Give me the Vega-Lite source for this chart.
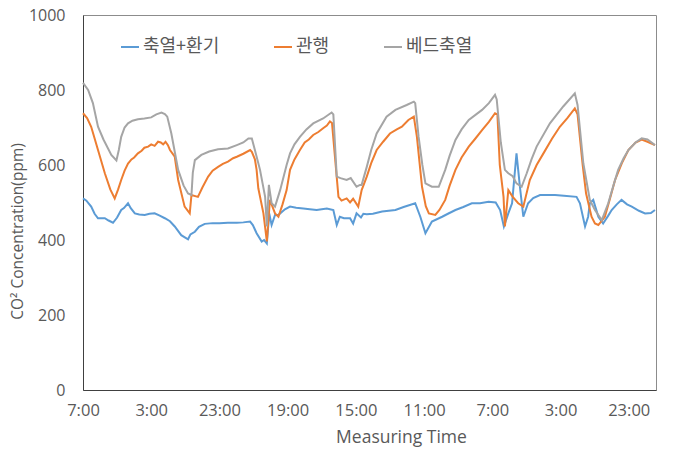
{
  "$schema": "https://vega.github.io/schema/vega-lite/v6.json",
  "autosize": {"type": "none"},
  "width": 573,
  "height": 375,
  "padding": {"left": 83, "top": 15, "right": 32, "bottom": 59},
  "background": "white",
  "config": {
    "view": {"stroke": "#8C8C8C", "strokeWidth": 1},
    "font": "Open Sans"
  },
  "datasets": {
    "blue": [
      {"h":0,"v":511},{"h":1,"v":505},{"h":2.4,"v":489},{"h":3.4,"v":470},{"h":4.4,"v":458},{"h":6.4,"v":458},{"h":7.5,"v":452},{"h":8.8,"v":446},{"h":10,"v":460},{"h":11.2,"v":480},{"h":12,"v":485},{"h":13.2,"v":498},{"h":14,"v":485},{"h":15.2,"v":471},{"h":16.5,"v":468},{"h":18.1,"v":467},{"h":19.5,"v":470},{"h":21.0,"v":471},{"h":22.5,"v":465},{"h":24.0,"v":458},{"h":25.5,"v":450},{"h":26.9,"v":436},{"h":28.8,"v":413},{"h":30.8,"v":402},{"h":31.5,"v":415},{"h":32.8,"v":422},{"h":34,"v":435},{"h":35.7,"v":443},{"h":38,"v":445},{"h":40,"v":445},{"h":42.5,"v":446},{"h":45.1,"v":446},{"h":47,"v":447},{"h":49.0,"v":449},{"h":49.8,"v":440},{"h":50.9,"v":418},{"h":52.4,"v":396},{"h":53.1,"v":400},{"h":53.9,"v":391},{"h":54.6,"v":471},{"h":55.3,"v":440},{"h":56.3,"v":467},{"h":57.3,"v":467},{"h":59.2,"v":482},{"h":60.7,"v":489},{"h":62.5,"v":486},{"h":64.6,"v":484},{"h":66.5,"v":482},{"h":68.5,"v":480},{"h":70,"v":482},{"h":71.5,"v":484},{"h":73.4,"v":480},{"h":74.4,"v":440},{"h":75.3,"v":462},{"h":76.5,"v":458},{"h":78.3,"v":458},{"h":79.2,"v":444},{"h":80.2,"v":471},{"h":81.5,"v":460},{"h":82.2,"v":470},{"h":83.2,"v":469},{"h":85,"v":470},{"h":87.7,"v":476},{"h":91.6,"v":480},{"h":94,"v":488},{"h":97.4,"v":498},{"h":98.9,"v":462},{"h":100.4,"v":418},{"h":102.3,"v":449},{"h":105.3,"v":462},{"h":107,"v":470},{"h":109.2,"v":480},{"h":111.5,"v":488},{"h":114.0,"v":498},{"h":116.4,"v":498},{"h":118.9,"v":502},{"h":121.0,"v":500},{"h":122.3,"v":480},{"h":123.4,"v":436},{"h":124.7,"v":471},{"h":125.8,"v":498},{"h":127.1,"v":631},{"h":128.1,"v":542},{"h":129.1,"v":462},{"h":130.5,"v":498},{"h":132,"v":512},{"h":134,"v":520},{"h":136,"v":520},{"h":138.4,"v":520},{"h":141,"v":518},{"h":144.7,"v":515},{"h":145.7,"v":498},{"h":147.2,"v":436},{"h":148.1,"v":462},{"h":148.6,"v":498},{"h":149.6,"v":507},{"h":151.1,"v":462},{"h":152.5,"v":444},{"h":154,"v":465},{"h":155.0,"v":480},{"h":156.5,"v":495},{"h":157.9,"v":507},{"h":159.5,"v":495},{"h":160.9,"v":489},{"h":163,"v":478},{"h":164.8,"v":471},{"h":166.5,"v":472},{"h":167.7,"v":480}
    ],
    "orange": [
      {"h":0,"v":738},{"h":1.2,"v":725},{"h":2.4,"v":702},{"h":4.4,"v":640},{"h":6.4,"v":578},{"h":8,"v":535},{"h":9.3,"v":511},{"h":10.3,"v":535},{"h":11.2,"v":560},{"h":12.2,"v":585},{"h":13.2,"v":604},{"h":14.2,"v":615},{"h":15,"v":620},{"h":16.1,"v":631},{"h":17.2,"v":638},{"h":18,"v":646},{"h":19.1,"v":649},{"h":20,"v":655},{"h":21,"v":651},{"h":22.0,"v":662},{"h":22.8,"v":660},{"h":23.5,"v":655},{"h":24.2,"v":662},{"h":24.9,"v":653},{"h":25.5,"v":640},{"h":26.9,"v":622},{"h":27.9,"v":560},{"h":29.8,"v":489},{"h":31.3,"v":471},{"h":31.8,"v":520},{"h":33.7,"v":515},{"h":35,"v":540},{"h":36.7,"v":569},{"h":38,"v":585},{"h":39.6,"v":595},{"h":41,"v":603},{"h":42.5,"v":609},{"h":44,"v":618},{"h":45.1,"v":622},{"h":47,"v":630},{"h":49.0,"v":640},{"h":49.5,"v":635},{"h":50.4,"v":615},{"h":50.9,"v":587},{"h":51.4,"v":538},{"h":52.9,"v":471},{"h":53.9,"v":396},{"h":54.8,"v":507},{"h":56.3,"v":471},{"h":57.3,"v":462},{"h":58.5,"v":495},{"h":59.7,"v":533},{"h":60.7,"v":587},{"h":62,"v":615},{"h":63.6,"v":640},{"h":65,"v":660},{"h":66.2,"v":668},{"h":67.5,"v":680},{"h":69,"v":688},{"h":70.4,"v":698},{"h":71.5,"v":705},{"h":72.4,"v":716},{"h":73.0,"v":712},{"h":74.9,"v":515},{"h":75.8,"v":505},{"h":77.3,"v":511},{"h":78.3,"v":500},{"h":79.2,"v":510},{"h":80.7,"v":489},{"h":81.7,"v":533},{"h":83.2,"v":569},{"h":84.5,"v":605},{"h":86.1,"v":640},{"h":88,"v":662},{"h":90,"v":684},{"h":92,"v":695},{"h":93.5,"v":702},{"h":95.4,"v":720},{"h":97.0,"v":729},{"h":97.9,"v":675},{"h":99.4,"v":542},{"h":100.5,"v":490},{"h":101.4,"v":471},{"h":103.3,"v":467},{"h":104.5,"v":480},{"h":106.2,"v":507},{"h":107.5,"v":545},{"h":109.2,"v":587},{"h":111,"v":620},{"h":113.1,"v":649},{"h":115,"v":670},{"h":117.0,"v":693},{"h":119,"v":715},{"h":120.8,"v":738},{"h":121.5,"v":735},{"h":122.2,"v":600},{"h":123.3,"v":515},{"h":123.7,"v":436},{"h":124.7,"v":533},{"h":126,"v":515},{"h":127.6,"v":498},{"h":129.1,"v":489},{"h":131,"v":560},{"h":133,"v":600},{"h":135,"v":631},{"h":137.5,"v":670},{"h":139.8,"v":702},{"h":142,"v":725},{"h":144.2,"v":751},{"h":145.0,"v":735},{"h":146.5,"v":600},{"h":147.5,"v":524},{"h":149.1,"v":462},{"h":150.1,"v":444},{"h":151.1,"v":440},{"h":153.0,"v":462},{"h":154.5,"v":510},{"h":156.0,"v":560},{"h":158,"v":605},{"h":159.9,"v":640},{"h":162,"v":660},{"h":163.8,"v":668},{"h":165.5,"v":662},{"h":167.7,"v":653}
    ],
    "gray": [
      {"h":0,"v":819},{"h":1.5,"v":800},{"h":2.9,"v":765},{"h":4.4,"v":702},{"h":6,"v":668},{"h":8.3,"v":627},{"h":9.8,"v":612},{"h":10.5,"v":640},{"h":11.2,"v":675},{"h":12.2,"v":700},{"h":13.2,"v":711},{"h":14.5,"v":718},{"h":16.1,"v":722},{"h":18,"v":724},{"h":20.0,"v":727},{"h":21.5,"v":735},{"h":23.0,"v":740},{"h":24.0,"v":736},{"h":24.7,"v":729},{"h":25.9,"v":684},{"h":27.9,"v":587},{"h":29.5,"v":545},{"h":30.8,"v":524},{"h":31.8,"v":520},{"h":32.2,"v":580},{"h":32.8,"v":613},{"h":34.7,"v":627},{"h":37,"v":636},{"h":39.6,"v":642},{"h":42.5,"v":644},{"h":45.1,"v":653},{"h":47,"v":660},{"h":48.5,"v":671},{"h":49.5,"v":671},{"h":50.4,"v":640},{"h":51.9,"v":587},{"h":53.4,"v":515},{"h":53.9,"v":436},{"h":54.5,"v":547},{"h":55.3,"v":498},{"h":56.3,"v":489},{"h":57.8,"v":533},{"h":59.7,"v":600},{"h":60.7,"v":631},{"h":62,"v":655},{"h":63.6,"v":675},{"h":65.5,"v":695},{"h":67.5,"v":711},{"h":70.4,"v":724},{"h":72.9,"v":740},{"h":73.4,"v":735},{"h":74.4,"v":569},{"h":75.5,"v":565},{"h":77.3,"v":560},{"h":78.5,"v":565},{"h":80.2,"v":542},{"h":81.2,"v":547},{"h":81.7,"v":547},{"h":83.2,"v":595},{"h":84.5,"v":640},{"h":86.1,"v":684},{"h":89,"v":729},{"h":91.6,"v":747},{"h":94.9,"v":760},{"h":97.0,"v":769},{"h":97.4,"v":765},{"h":98.4,"v":675},{"h":99.5,"v":600},{"h":100.4,"v":551},{"h":102.3,"v":542},{"h":104.3,"v":542},{"h":106.2,"v":587},{"h":107.5,"v":625},{"h":109.2,"v":667},{"h":111,"v":695},{"h":113.1,"v":720},{"h":117.0,"v":747},{"h":119,"v":765},{"h":120.8,"v":787},{"h":121.3,"v":775},{"h":122.5,"v":660},{"h":123.7,"v":587},{"h":124.7,"v":578},{"h":126,"v":570},{"h":127.1,"v":551},{"h":128.6,"v":542},{"h":130.1,"v":578},{"h":131.5,"v":615},{"h":133,"v":649},{"h":136.9,"v":711},{"h":140.8,"v":756},{"h":144.2,"v":791},{"h":145,"v":760},{"h":146.7,"v":604},{"h":148.6,"v":507},{"h":150.1,"v":480},{"h":152.1,"v":453},{"h":154.0,"v":498},{"h":155.5,"v":545},{"h":156.9,"v":587},{"h":158.5,"v":618},{"h":159.9,"v":640},{"h":162,"v":660},{"h":163.8,"v":671},{"h":165.5,"v":668},{"h":167.7,"v":653}
    ]
  },
  "encoding": {
    "x": {
      "field": "h", "type": "quantitative",
      "scale": {"domain": [0, 168], "nice": false, "zero": false},
      "axis": {
        "values": [0, 20, 40, 60, 80, 100, 120, 140, 160],
        "labelExpr": "((datum.value + 7) % 24) + ':00'",
        "grid": false, "ticks": false, "tickSize": 0,
        "domainColor": "#404040", "domainWidth": 1,
        "labelFont": "Open Sans", "labelFontSize": 16.5, "labelColor": "#595959",
        "labelPadding": 12, "labelFlush": false,
        "title": "Measuring Time",
        "titleFont": "Open Sans", "titleFontSize": 17.5, "titleFontWeight": "normal", "titleColor": "#595959",
        "titleX": 318, "titleY": 52, "titleBaseline": "alphabetic", "titleAnchor": "middle", "titleAlign": "center"
      }
    },
    "y": {
      "field": "v", "type": "quantitative",
      "scale": {"domain": [0, 1000], "nice": false},
      "axis": {
        "values": [0, 200, 400, 600, 800, 1000],
        "format": "d",
        "grid": false, "ticks": false, "tickSize": 0,
        "domainColor": "#404040", "domainWidth": 1,
        "labelFont": "Open Sans", "labelFontSize": 16, "labelColor": "#595959",
        "labelPadding": 18,
        "title": "CO² Concentration(ppm)",
        "titleFont": "Open Sans", "titleFontSize": 15.5, "titleFontWeight": "normal", "titleColor": "#595959",
        "titleX": -66, "titleY": 216, "titleAngle": -90, "titleBaseline": "middle", "titleAlign": "center"
      }
    }
  },
  "layer": [
    {
      "data": {"name": "blue"},
      "mark": {"type": "line", "strokeWidth": 2},
      "encoding": {
        "color": {
          "datum": "축열+환기", "type": "nominal",
          "scale": {"domain": ["축열+환기", "관행", "베드축열"], "range": ["#5B9BD5", "#ED7D31", "#A5A5A5"]},
          "legend": {
            "title": null, "orient": "none", "direction": "horizontal",
            "legendX": 37, "legendY": 22,
            "symbolType": "stroke", "symbolSize": 324, "symbolStrokeWidth": 2,
            "labelFont": "Noto Sans CJK KR", "labelFontSize": 18, "labelColor": "#595959",
            "labelOffset": 3, "columnPadding": 50, "labelLimit": 200
          }
        }
      }
    },
    {
      "data": {"name": "orange"},
      "mark": {"type": "line", "strokeWidth": 2},
      "encoding": {"color": {"datum": "관행", "type": "nominal"}}
    },
    {
      "data": {"name": "gray"},
      "mark": {"type": "line", "strokeWidth": 2},
      "encoding": {"color": {"datum": "베드축열", "type": "nominal"}}
    }
  ]
}
